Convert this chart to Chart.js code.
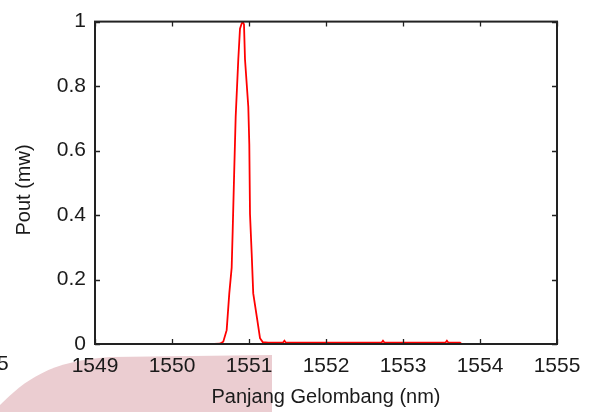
<!DOCTYPE html>
<html>
<head>
<meta charset="utf-8">
<script src="https://cdn.jsdelivr.net/npm/chart.js@4.4.1/dist/chart.umd.min.js"></script>
<style>
  html, body { margin: 0; padding: 0; background: #ffffff; }
  #wrap { width: 591px; height: 412px; position: relative; }
</style>
</head>
<body>
<div id="wrap"><canvas id="c" width="591" height="412"></canvas></div>
<script>
// ---- data ----
const xTicks = [1549, 1550, 1551, 1552, 1553, 1554, 1555];
const yTicks = [0, 0.2, 0.4, 0.6, 0.8, 1];

const wavelength = [1549, 1550.55, 1550.62, 1550.666, 1550.71, 1550.744, 1550.775, 1550.788,
  1550.809, 1550.827, 1550.861, 1550.883, 1550.905, 1550.918, 1550.935, 1550.948, 1550.991,
  1551.004, 1551.013, 1551.035, 1551.055, 1551.108, 1551.143, 1551.178, 1551.25, 1551.44,
  1551.46, 1551.48, 1552.72, 1552.74, 1552.76, 1553.55, 1553.57, 1553.59, 1553.74, 1553.76, 1555];
const pout = [0, 0, 0.001, 0.007, 0.043, 0.157, 0.237, 0.350,
  0.545, 0.705, 0.883, 0.978, 0.994, 1.0, 0.991, 0.883, 0.735,
  0.618, 0.403, 0.280, 0.157, 0.074, 0.018, 0.006, 0.004, 0.004,
  0.01, 0.004, 0.004, 0.01, 0.004, 0.004, 0.01, 0.004, 0.004, 0, 0];

const baseX = [1550.49, 1553.74];
const baseY = [0, 0];

const xTitle = 'Panjang Gelombang (nm)';
const yTitle = 'Pout (mw)';

// ---- build chart ----
const FONT = "'Liberation Sans', Arial, Helvetica, sans-serif";
Chart.defaults.font.family = FONT;
Chart.defaults.font.size = 20;
Chart.defaults.color = '#1a1a1a';

const backdrop = {
  id: 'backdrop',
  beforeDraw(chart) {
    const ctx = chart.ctx;
    ctx.save();
    ctx.fillStyle = '#ffffff';
    ctx.fillRect(0, 0, chart.width, chart.height);
    // faint pink watermark shape at bottom-left
    ctx.fillStyle = 'rgb(235,205,209)';
    ctx.beginPath();
    ctx.moveTo(0, 412);
    ctx.lineTo(0, 405);
    ctx.bezierCurveTo(25, 380, 50, 361, 110, 357);
    ctx.lineTo(272, 355);
    ctx.lineTo(272, 412);
    ctx.closePath();
    ctx.fill();
    // cut-off label of a neighbouring figure
    ctx.fillStyle = '#1a1a1a';
    ctx.font = '21px ' + FONT;
    ctx.textAlign = 'left';
    ctx.textBaseline = 'middle';
    ctx.fillText('5', -3, 364);
    ctx.restore();
  }
};

const frame = {
  id: 'frame',
  afterDatasetsDraw(chart) {
    const ctx = chart.ctx;
    const a = chart.chartArea;
    const xs = chart.scales.x, ys = chart.scales.y;
    ctx.save();
    ctx.strokeStyle = '#222222';
    ctx.lineWidth = 1.3;
    const L = 5;
    ctx.beginPath();
    xTicks.forEach(v => {
      const px = Math.round(xs.getPixelForValue(v)) + 0.5;
      ctx.moveTo(px, a.bottom); ctx.lineTo(px, a.bottom - L);
      ctx.moveTo(px, a.top); ctx.lineTo(px, a.top + L);
    });
    yTicks.forEach(v => {
      const py = Math.round(ys.getPixelForValue(v)) + 0.5;
      ctx.moveTo(a.left, py); ctx.lineTo(a.left + L, py);
      ctx.moveTo(a.right, py); ctx.lineTo(a.right - L, py);
    });
    ctx.stroke();
    ctx.lineWidth = 2;
    ctx.strokeRect(a.left, a.top, a.right - a.left, a.bottom - a.top);
    // y axis title
    ctx.fillStyle = '#1a1a1a';
    ctx.font = '20px ' + FONT;
    ctx.textAlign = 'center';
    ctx.textBaseline = 'middle';
    ctx.translate(24, 190);
    ctx.rotate(-Math.PI / 2);
    ctx.fillText(yTitle, 0, 0);
    ctx.restore();
  }
};

new Chart(document.getElementById('c'), {
  type: 'line',
  data: {
    datasets: [
      {
        label: 'Pout',
        data: wavelength.map((x, i) => ({ x: x, y: pout[i] })),
        borderColor: '#ff0000',
        borderWidth: 1.8,
        pointRadius: 0,
        tension: 0,
        fill: false,
        order: 0
      },
      {
        label: 'base',
        data: baseX.map((x, i) => ({ x: x, y: baseY[i] })),
        borderColor: '#000000',
        borderWidth: 2,
        pointRadius: 0,
        fill: false,
        order: 1
      }
    ]
  },
  options: {
    responsive: false,
    animation: false,
    devicePixelRatio: 1,
    layout: { padding: { top: 19, right: 34, left: 0, bottom: 0 } },
    plugins: { legend: { display: false }, tooltip: { enabled: false } },
    scales: {
      x: {
        type: 'linear',
        min: 1549, max: 1555,
        afterFit(s) { s.height = 68; },
        afterBuildTicks(s) { s.ticks = xTicks.map(v => ({ value: v })); },
        grid: { display: false, drawTicks: false },
        border: { display: false },
        ticks: { padding: 10, maxRotation: 0, autoSkip: false, font: { size: 21 }, callback: v => String(v) },
        title: { display: true, text: xTitle, padding: { top: 0, bottom: 3 } }
      },
      y: {
        type: 'linear',
        min: 0, max: 1,
        afterFit(s) { s.width = 95; },
        afterBuildTicks(s) { s.ticks = yTicks.map(v => ({ value: v })); },
        grid: { display: false, drawTicks: false },
        border: { display: false },
        ticks: { padding: 9, autoSkip: false, font: { size: 21 }, callback: v => String(v) },
        title: { display: false, text: yTitle }
      }
    }
  },
  plugins: [backdrop, frame]
});
</script>
</body>
</html>
